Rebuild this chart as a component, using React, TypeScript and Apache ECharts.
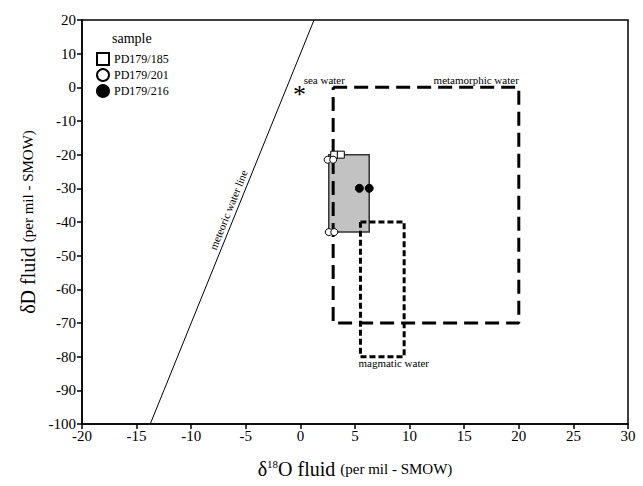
import React, { useEffect, useRef } from "react";
import * as echarts from "echarts";

// Samples [δ18O, δD]
const pd185: number[][] = [[3.1, -20], [3.7, -20]];
const pd201: number[][] = [[2.5, -21.5], [3.0, -21.5], [2.6, -43], [3.1, -43]];
const pd216: number[][] = [[5.4, -30], [6.3, -30]];

// Reference fields
const meteoricLine: number[][] = [[-13.75, -100], [1.25, 20]];
const metamorphicBox: number[][] = [[3, 0], [20, 0], [20, -70], [3, -70], [3, 0]];
const magmaticBox: number[][] = [[5.5, -40], [9.5, -40], [9.5, -80], [5.5, -80], [5.5, -40]];
const grayBoxCorners: number[][] = [[2.6, -20], [6.3, -43]];
const seaWater: number[] = [0, 0];

const xTicks = { min: -20, max: 30, interval: 5 };
const yTicks = { min: -100, max: 20, interval: 10 };

const serif = "Liberation Serif";

export default function App() {
  const ref = useRef<HTMLDivElement>(null);
  useEffect(() => {
    if (!ref.current) return;
    const chart = echarts.init(ref.current, null, { renderer: "svg" });
    const annot = (pt: number[], text: string, extra: any) => ({
      type: "scatter",
      data: [pt],
      symbolSize: 0,
      silent: true,
      z: 6,
      itemStyle: { color: "#000", opacity: 1 },
      label: {
        show: true,
        formatter: text,
        fontFamily: serif,
        fontSize: 11,
        color: "#000",
        ...extra,
      },
    });
    chart.setOption({
      animation: false,
      backgroundColor: "#fff",
      grid: { left: 82, right: 15, top: 20, bottom: 62, show: true, borderColor: "#000", borderWidth: 1.5 },
      xAxis: {
        type: "value",
        ...xTicks,
        splitLine: { show: false },
        axisLine: { onZero: false, lineStyle: { color: "#000", width: 1.5 } },
        axisTick: { length: 5, lineStyle: { color: "#000", width: 1.5 } },
        axisLabel: { color: "#000", fontFamily: serif, fontSize: 15, margin: 4 },
        name: "{b|δ}{sup|18}{b|O fluid }{s|(per mil - SMOW)}",
        nameLocation: "middle",
        nameGap: 34,
        nameTextStyle: {
          rich: {
            b: { fontFamily: serif, fontSize: 20, color: "#000" },
            sup: { fontFamily: serif, fontSize: 11, color: "#000", verticalAlign: "top", padding: [0, 0, 10, 0] },
            s: { fontFamily: serif, fontSize: 15, color: "#000" },
          },
        },
      },
      yAxis: {
        type: "value",
        ...yTicks,
        splitLine: { show: false },
        axisLine: { onZero: false, lineStyle: { color: "#000", width: 1.5 } },
        axisTick: { length: 5, lineStyle: { color: "#000", width: 1.5 } },
        axisLabel: { color: "#000", fontFamily: serif, fontSize: 15, margin: 6 },
        name: "{b|δD fluid }{s|(per mil - SMOW)}",
        nameLocation: "middle",
        nameGap: 38,
        nameTextStyle: {
          rich: {
            b: { fontFamily: serif, fontSize: 20, color: "#000" },
            s: { fontFamily: serif, fontSize: 15, color: "#000" },
          },
        },
      },
      legend: {
        data: ["PD179/185", "PD179/201", "PD179/216"],
        orient: "vertical",
        left: 91,
        top: 47,
        itemGap: 2,
        itemWidth: 12,
        itemHeight: 12,
        textStyle: { fontFamily: serif, fontSize: 12, color: "#000", lineHeight: 14 },
      },
      graphic: [
        {
          type: "text",
          left: 112,
          top: 31,
          style: { text: "sample", font: `14px "${serif}"`, fill: "#000" },
        },
      ],
      series: [
        {
          type: "line",
          data: meteoricLine,
          symbol: "none",
          lineStyle: { color: "#000", width: 1 },
          silent: true,
          z: 2,
        },
        {
          type: "line",
          data: metamorphicBox,
          symbol: "none",
          lineStyle: { color: "#000", width: 3, type: [14, 7] },
          silent: true,
          z: 2,
        },
        {
          type: "line",
          data: magmaticBox,
          symbol: "none",
          lineStyle: { color: "#000", width: 3, type: [6, 3] },
          silent: true,
          z: 2,
        },
        {
          type: "scatter",
          data: [],
          silent: true,
          z: 3,
          markArea: {
            silent: true,
            itemStyle: { color: "#c2c2c2", borderColor: "#333", borderWidth: 1.5, opacity: 1 },
            data: [[{ coord: grayBoxCorners[0] }, { coord: grayBoxCorners[1] }]],
          },
        },
        {
          name: "PD179/185",
          type: "scatter",
          data: pd185,
          symbol: "rect",
          symbolSize: 7,
          z: 5,
          itemStyle: { color: "#fff", borderColor: "#000", borderWidth: 1, opacity: 1 },
        },
        {
          name: "PD179/201",
          type: "scatter",
          data: pd201,
          symbol: "circle",
          symbolSize: 7,
          z: 5,
          itemStyle: { color: "#fff", borderColor: "#000", borderWidth: 1, opacity: 1 },
        },
        {
          name: "PD179/216",
          type: "scatter",
          data: pd216,
          symbol: "circle",
          symbolSize: 8,
          z: 5,
          itemStyle: { color: "#000", borderColor: "#000", borderWidth: 1, opacity: 1 },
        },
        annot(seaWater, "*", { position: "inside", fontSize: 26, offset: [-1, 7] }),
        annot([0.3, 2.2], "sea water", { position: "right", distance: 0 }),
        annot([20, 2.2], "metamorphic water", { position: "left", distance: 0 }),
        annot([5.5, -82], "magmatic water", { position: "right", distance: 0, offset: [-2, 0] }),
        annot([-6.6, -36.4], "meteoric water line", { position: "inside", rotate: 68 }),
      ],
    });
    return () => chart.dispose();
  }, []);
  return <div ref={ref} style={{ position: "fixed", left: 0, top: 0, width: 643, height: 486 }} />;
}
